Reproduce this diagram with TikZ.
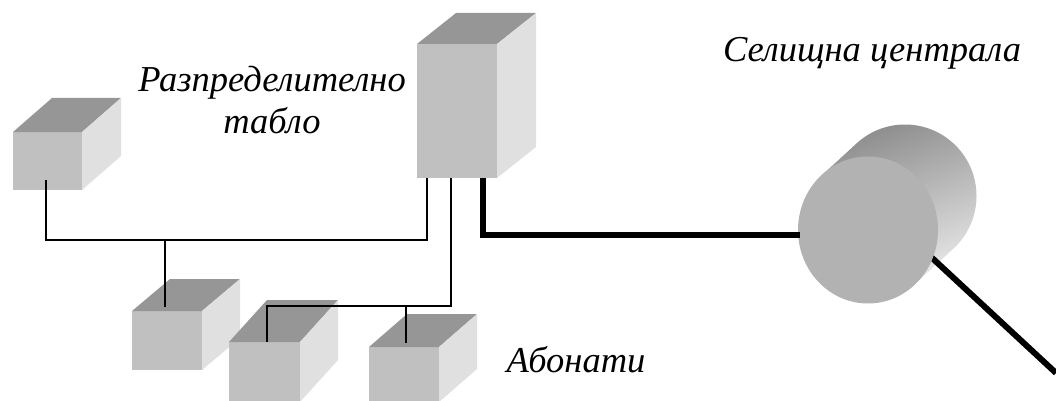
\documentclass[tikz,border=0pt]{standalone}
\usepackage{fontspec}
\setmainfont{Liberation Serif}
\usetikzlibrary{calc,shapes.geometric}

\definecolor{facefront}{HTML}{C0C0C0}
\definecolor{facetop}{HTML}{969696}
\definecolor{faceside}{HTML}{E0E0E0}
\definecolor{drumface}{HTML}{B2B2B2}
\definecolor{drumdark}{HTML}{8A8A8A}
\definecolor{drumlight}{HTML}{E8E8E8}

% #1 name, (#2,#3) front top-left, #4 width, #5 height, (#6,#7) depth offset
\newcommand\cuboid[7]{%
  \node[frontface, minimum width=#4pt, minimum height=#5pt, anchor=north west] (#1) at (#2,#3) {};
  \fill[facetop] (#1.north west) -- ++(#6,#7) -- ++(#4,0) -- (#1.north east) -- cycle;
  \fill[faceside] (#1.north east) -- ++(#6,#7) -- ++(0,#5) -- (#1.south east) -- cycle;
}

\tikzset{
  frontface/.style={rectangle, fill=facefront, draw=none, inner sep=0pt, outer sep=0pt},
  wire/.style={draw=black, line width=1.8pt},
  cable/.style={draw=black, line width=6pt},
  caption/.style={font=\fontsize{36.5}{42}\selectfont\itshape, inner sep=0pt}
}

\begin{document}
\begin{tikzpicture}[x=1pt, y=-1pt]
\useasboundingbox (0,0) rectangle (1056,401);

% thick cables (drawn first, the drum covers their ends)
\coordinate (drumin) at (800,235);
\coordinate (drumout) at (930,256);
\coordinate (lineend) at (1056,373);

% drum: side surface with gradient, then the front face
\path[left color=drumdark, right color=drumlight, shading angle=20]
  (905,196) ++(47.4:71.5) arc[start angle=47.4, end angle=-132.6, radius=71.5]
  -- ($(868,230)+(-132.6:71.5)$) -- ($(868,230)+(47.4:71.5)$) -- cycle;
\draw[cable] (drumout) -- (lineend);
\node[ellipse, fill=drumface, minimum width=140pt, minimum height=147pt, inner sep=0pt] (drum) at (868,230) {};

% equipment boxes
\cuboid{panel}{13}{132}{69}{58}{39}{-34}
\cuboid{tower}{417}{44}{80}{134}{39}{-31}
\cuboid{subA}{132}{311}{70}{59}{38}{-32}
\cuboid{subB}{229}{342}{71}{60}{38}{-42}
\cuboid{subC}{369}{347}{70}{55}{38}{-33}

% cable from the tower to the drum
\coordinate (tc0) at (483,178);
\draw[cable, line join=miter] (tc0) |- (drumin);

% thin wires
\coordinate (w1) at (46,180);
\coordinate (w2) at (427,178);
\coordinate (j1) at (427,240);
\coordinate (w3) at (165,307);
\coordinate (w4) at (451,178);
\coordinate (w5) at (267,342);
\coordinate (w6) at (406,343);
\coordinate (j2) at (406,306);
\draw[wire] (w1) |- (j1) -- (w2);
\draw[wire] (w3) -- (w3 |- j1);
\draw[wire] (w4) |- (w5 |- j2) -- (w5);
\draw[wire] (j2) -- (w6);

% captions
\node[caption, anchor=base, align=center] (board) at (272,133) {Разпределително\\табло};
\node[caption, anchor=base] (exchange) at (872,62) {Селищна централа};
\node[caption, anchor=base] (subscribers) at (576,372) {Абонати};
\end{tikzpicture}
\end{document}
